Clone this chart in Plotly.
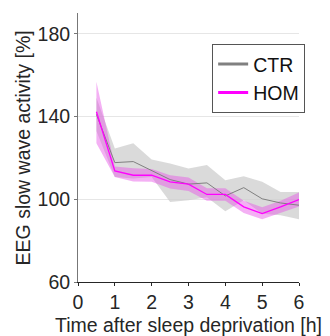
import plotly.graph_objects as go

hours = [0.5, 1.0, 1.5, 2.0, 2.5, 3.0, 3.5, 4.0, 4.5, 5.0, 5.5, 6.0]

ctr_mean = [141, 117.7, 118.2, 114.0, 109.5, 107.3, 107.9, 101.6, 105.6, 100.2, 98.2, 97.1]
ctr_upper = [149, 124.5, 127.0, 119.2, 117.3, 114.8, 116.5, 109.2, 111.1, 108.4, 103.5, 103.5]
ctr_lower = [133, 110.8, 110.0, 110.8, 98.7, 99.5, 101.0, 94.2, 99.5, 93.0, 92.3, 90.3]

hom_mean = [142.3, 113.7, 111.6, 111.6, 108.4, 107.3, 102.3, 102.3, 96.3, 93.1, 96.3, 99.8]
hom_upper = [156.8, 115.8, 115.0, 114.6, 111.6, 110.5, 105.3, 105.3, 99.3, 96.1, 99.3, 103.3]
hom_lower = [127.0, 110.8, 108.6, 108.4, 105.2, 104.0, 99.3, 99.3, 93.3, 90.3, 93.3, 96.5]

x_ticks = [0, 1, 2, 3, 4, 5, 6]
y_ticks = [60, 100, 140, 180]

fig = go.Figure()

# CTR band
fig.add_trace(go.Scatter(x=hours + hours[::-1], y=ctr_upper + ctr_lower[::-1],
                         fill='toself', fillcolor='rgba(205,205,205,0.75)',
                         line=dict(width=0), mode='lines', showlegend=False, hoverinfo='skip'))
# HOM band
fig.add_trace(go.Scatter(x=hours + hours[::-1], y=hom_upper + hom_lower[::-1],
                         fill='toself', fillcolor='rgba(230,80,230,0.45)',
                         line=dict(width=0), mode='lines', showlegend=False, hoverinfo='skip'))
# CTR line
fig.add_trace(go.Scatter(x=hours, y=ctr_mean, mode='lines', name='CTR', showlegend=False,
                         line=dict(color='#808080', width=1)))
# HOM line
fig.add_trace(go.Scatter(x=hours, y=hom_mean, mode='lines', name='HOM', showlegend=False,
                         line=dict(color='#ff00ff', width=1.3)))
# legend entries (thick lines)
fig.add_trace(go.Scatter(x=[None], y=[None], mode='lines', name='CTR',
                         line=dict(color='#808080', width=3)))
fig.add_trace(go.Scatter(x=[None], y=[None], mode='lines', name='HOM',
                         line=dict(color='#ff00ff', width=3)))

font_color = '#262626'
fig.update_layout(
    width=330, height=336,
    margin=dict(l=78, r=31, t=13, b=54, autoexpand=False),
    paper_bgcolor='white', plot_bgcolor='white',
    font=dict(family='Liberation Sans, Arial, sans-serif', size=19, color=font_color),
    showlegend=True,
    legend=dict(x=0.607, y=0.885, xanchor='left', yanchor='top',
                bgcolor='white', bordercolor='#555555', borderwidth=1,
                font=dict(size=19.5, color='#111111'),
                itemwidth=30, tracegroupgap=0),
    xaxis=dict(range=[0, 6], tickvals=x_ticks, ticks='outside', ticklen=3,
               tickcolor='#262626', showline=True, linecolor='#262626', linewidth=1,
               showgrid=False, zeroline=False, automargin=False,
               title=dict(text='Time after sleep deprivation [h]',
                          font=dict(size=19.5)),
               tickfont=dict(size=19.5)),
    yaxis=dict(range=[60, 190], tickvals=y_ticks, ticks='outside', ticklen=3,
               tickcolor='#777777', showline=True, linecolor='#777777', linewidth=1,
               showgrid=True, gridcolor='#e6e6e6', gridwidth=1, zeroline=False,
               automargin=False,
               tickfont=dict(size=19.5)),
    annotations=[dict(text='EEG slow wave activity [%]', xref='paper', yref='paper',
                      x=-0.249, y=0.5, xanchor='center', yanchor='middle',
                      textangle=-90, showarrow=False,
                      font=dict(size=19.5, color=font_color))],
)

fig.write_html("out.html")
